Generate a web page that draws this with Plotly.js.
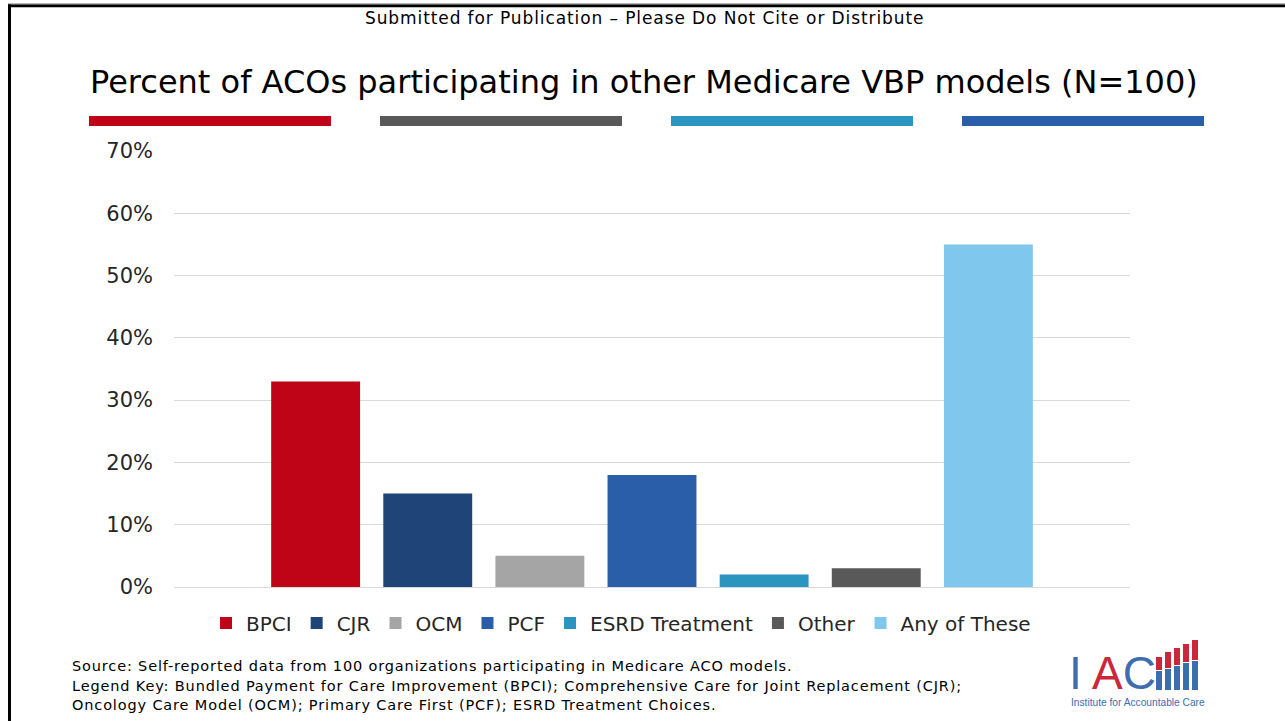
<!DOCTYPE html>
<html>
<head>
<meta charset="utf-8">
<script src="https://cdn.plot.ly/plotly-3.0.1.min.js"></script>
<style>
html,body{margin:0;padding:0;background:#fff;}
#chart{width:1285px;height:721px;}
</style>
</head>
<body>
<div id="chart"></div>
<script>
// ---- data ----
const seriesNames = ["BPCI", "CJR", "OCM", "PCF", "ESRD Treatment", "Other", "Any of These"];
const seriesValues = [0.33, 0.15, 0.05, 0.18, 0.02, 0.03, 0.55];
const seriesColors = ["#C00418", "#1F4477", "#A5A5A5", "#2A5EA8", "#2A96C0", "#595959", "#7FC7EC"];
const category = [""];
const yTickVals = [0, 0.1, 0.2, 0.3, 0.4, 0.5, 0.6, 0.7];

const titleText = "Percent of ACOs participating in other Medicare VBP models (N=100)";
const headerText = "Submitted for Publication \u2013 Please Do Not Cite or Distribute";
const footerLines = [
  "Source: Self-reported data from 100 organizations participating in Medicare ACO models.",
  "Legend Key: Bundled Payment for Care Improvement (BPCI); Comprehensive Care for Joint Replacement (CJR);",
  "Oncology Care Model (OCM); Primary Care First (PCF); ESRD Treatment Choices."
];

// ---- layout helpers (pixel -> paper) ----
const W = 1285, H = 721;
const L = 174, R = 1130, T = 151, B = 587;
const px = x => (x - L) / (R - L);
const py = y => (B - y) / (B - T);
const spaced = (t, s) => '<span style="letter-spacing:' + s + 'px">' + t + '</span>';

const traces = seriesNames.map((n, i) => ({
  type: "bar",
  name: n,
  x: category,
  y: [seriesValues[i]],
  marker: {color: seriesColors[i]},
  hoverinfo: "name+y"
}));

const shapes = [];
const annotations = [];

// slide border
shapes.push({type:"line", xref:"paper", yref:"paper", x0:px(9.5), x1:px(9.5), y0:py(4), y1:py(721), line:{color:"#000", width:3}});
shapes.push({type:"line", xref:"paper", yref:"paper", x0:px(8), x1:px(1285), y0:py(5.8), y1:py(5.8), line:{color:"#000", width:3}});
shapes.push({type:"line", xref:"paper", yref:"paper", x0:px(8), x1:px(1285), y0:py(3.8), y1:py(3.8), line:{color:"#999", width:1}});

// colored header bars
const hdrBars = [[89,331,"#C00418"],[380,622,"#595959"],[671,913,"#2A96C0"],[962,1204,"#2A5EA8"]];
hdrBars.forEach(b => shapes.push({type:"rect", xref:"paper", yref:"paper", x0:px(b[0]), x1:px(b[1]), y0:py(126), y1:py(116), fillcolor:b[2], line:{width:0}}));

// logo bars
const logoBars = [[1156,657,670],[1165,652,668],[1174,648,665],[1183,644,662],[1192,640,660]];
logoBars.forEach(b => {
  shapes.push({type:"rect", xref:"paper", yref:"paper", x0:px(b[0]), x1:px(b[0]+6), y0:py(b[2]), y1:py(b[1]), fillcolor:"#C8283A", line:{width:0}});
  shapes.push({type:"rect", xref:"paper", yref:"paper", x0:px(b[0]), x1:px(b[0]+6), y0:py(690), y1:py(b[2]+1), fillcolor:"#3D6DAF", line:{width:0}});
});

// texts
annotations.push({xref:"paper", yref:"paper", x:px(644), y:py(18), text:spaced(headerText, 0.9), showarrow:false, xanchor:"center", yanchor:"middle", font:{family:"DejaVu Sans", size:17, color:"#000"}});
annotations.push({xref:"paper", yref:"paper", x:px(644), y:py(82), text:titleText, showarrow:false, xanchor:"center", yanchor:"middle", font:{family:"DejaVu Sans", size:32, color:"#000"}});
footerLines.forEach((t, i) => annotations.push({xref:"paper", yref:"paper", x:px(70), y:py(666 + i*19.5), text:spaced(t, 0.85), showarrow:false, xanchor:"left", yanchor:"middle", font:{family:"DejaVu Sans", size:14.5, color:"#000"}}));
annotations.push({xref:"paper", yref:"paper", x:px(1112), y:py(673), text:'<span style="color:#3D6DAF">I</span> <span style="color:#C8283A">A</span><span style="color:#3D6DAF">C</span>', showarrow:false, xanchor:"center", yanchor:"middle", font:{family:"Liberation Sans", size:46, color:"#3D6DAF"}});
annotations.push({xref:"paper", yref:"paper", x:px(1138), y:py(702), text:"Institute for Accountable Care", showarrow:false, xanchor:"center", yanchor:"middle", font:{family:"Liberation Sans", size:10.2, color:"#3D6DAF"}});

const layout = {
  width: W, height: H,
  margin: {l: L, r: W - R, t: T, b: H - B, pad: 0},
  paper_bgcolor: "#fff",
  plot_bgcolor: "#fff",
  barmode: "group",
  bargap: 0.179,
  bargroupgap: 0.207,
  showlegend: true,
  legend: {orientation: "h", x: px(621), xanchor: "center", y: py(623), yanchor: "middle",
           font: {family: "DejaVu Sans", size: 20, color: "#262626"}, itemwidth: 30, traceorder: "normal"},
  xaxis: {showticklabels: false, showgrid: false, zeroline: false, showline: false, fixedrange: true},
  yaxis: {range: [0, 0.7], tickvals: yTickVals, tickformat: ".0%", showgrid: true, gridcolor: "#D9D9D9", gridwidth: 1,
          zeroline: true, zerolinecolor: "#D9D9D9", zerolinewidth: 1, showline: false, ticks: "", ticklabelstandoff: 20,
          tickfont: {family: "DejaVu Sans", size: 21, color: "#262626"}, fixedrange: true},
  shapes: shapes,
  annotations: annotations
};

Plotly.newPlot("chart", traces, layout, {displayModeBar: false, staticPlot: true});
</script>
</body>
</html>
